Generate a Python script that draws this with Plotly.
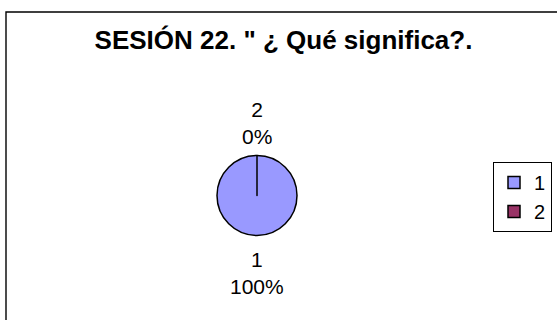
import plotly.graph_objects as go

categories = ["1", "2"]
values = [100, 0]
colors = ["#9999FF", "#993366"]
title_text = "SESIÓN 22. \" ¿ Qué significa?."

W, H = 557, 320
FONT = "Liberation Sans, Arial, sans-serif"

# pie placement (pixels)
CX, CY, R = 257, 195.5, 40
dom_x = [(CX - R) / W, (CX + R) / W]
dom_y = [(H - CY - R) / H, (H - CY + R) / H]

fig = go.Figure()
fig.add_trace(go.Pie(
    labels=categories,
    values=values,
    sort=False,
    direction="clockwise",
    rotation=0,
    marker=dict(colors=colors, line=dict(color="black", width=1.5)),
    textinfo="none",
    domain=dict(x=dom_x, y=dom_y),
    showlegend=True,
    hoverinfo="label+percent",
))

# data labels: slice 1 (mid-angle at bottom), slice 2 (at top)
total = sum(values)
label_offsets = {0: 77, 1: -72.5}  # pixel offsets of label blocks from pie centre
annotations = []
for i, (cat, v) in enumerate(zip(categories, values)):
    pct = round(100 * v / total)
    annotations.append(dict(
        text=f"{cat}<br>{pct}%", showarrow=False,
        xref="paper", yref="paper",
        x=CX / W, y=(H - CY - label_offsets[i]) / H,
        xanchor="center", yanchor="middle",
        font=dict(size=21, family=FONT, color="black"),
    ))

fig.update_layout(
    width=W, height=H,
    margin=dict(l=0, r=0, t=0, b=0),
    paper_bgcolor="white",
    plot_bgcolor="white",
    font=dict(family=FONT, color="black"),
    title=dict(text="<b>" + title_text + "</b>", x=283.5 / W, xanchor="center",
               y=1 - 40 / H, yanchor="middle", font=dict(size=26, family=FONT)),
    legend=dict(x=493 / W, xanchor="left", y=1 - 162 / H, yanchor="top",
                bordercolor="black", borderwidth=1, bgcolor="white",
                font=dict(size=20, family=FONT), itemwidth=30,
                tracegroupgap=0),
    annotations=annotations,
    shapes=[dict(type="rect", xref="paper", yref="paper",
                 x0=6 / W, y0=1 - 12 / H, x1=1.1, y1=-0.1,
                 line=dict(color="black", width=1.4), layer="below")],
)

fig.write_html("out.html", config={"displayModeBar": False})

# remove the browser's default body margin so the figure fills the window
with open("out.html", encoding="utf-8") as f:
    html = f.read()
html = html.replace("<body>", '<body style="margin:0;padding:0;overflow:hidden">', 1)
with open("out.html", "w", encoding="utf-8") as f:
    f.write(html)
